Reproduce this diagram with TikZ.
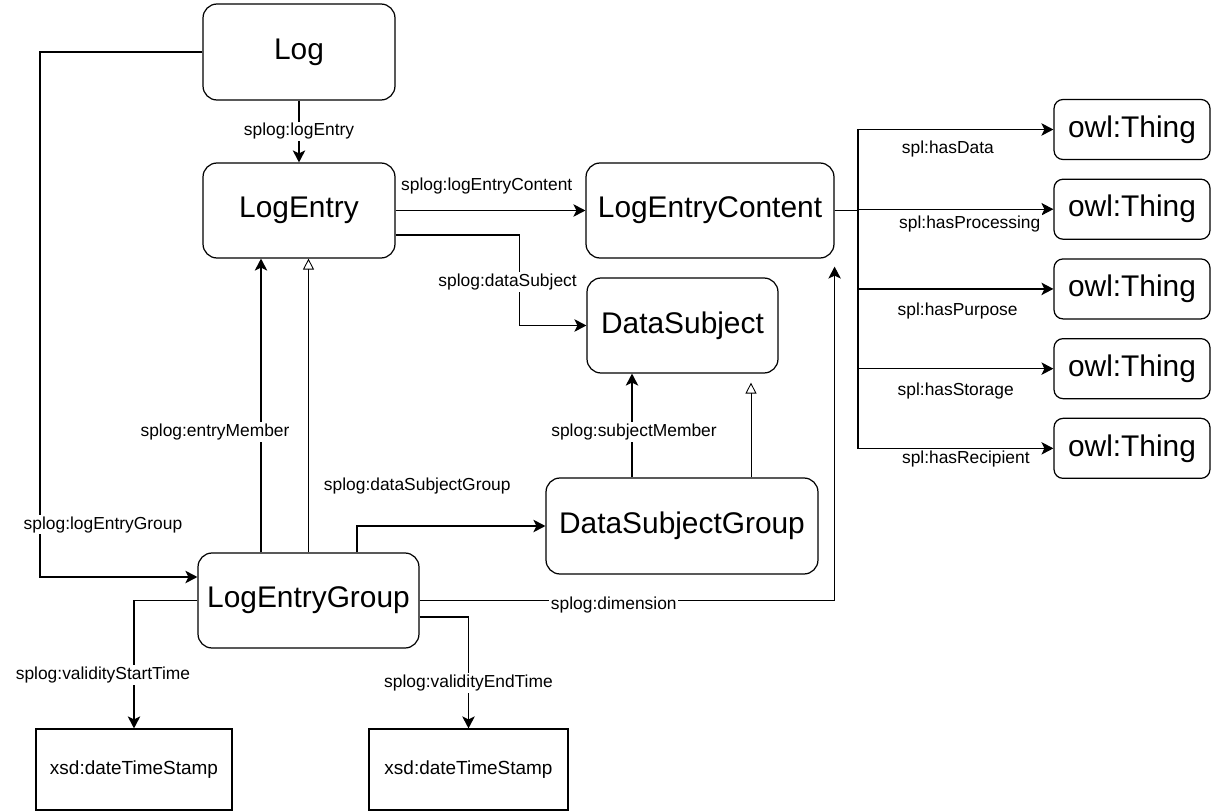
\documentclass[tikz,border=0pt]{standalone}
\usepackage{fontspec}
\setmainfont{Liberation Sans}
\usetikzlibrary{arrows.meta}
\usetikzlibrary{positioning}

\begin{document}
\begin{tikzpicture}[x=0.02cm, y=-0.02cm,
    cls/.style={draw, rounded corners=0.28cm, inner sep=0pt, line width=0.7pt, font=\fontsize{17}{20}\selectfont},
    thing/.style={cls, rounded corners=0.18cm, minimum width=3.12cm, minimum height=1.2cm},
    lit/.style={draw, inner sep=0pt, line width=0.7pt, minimum height=1.62cm, font=\fontsize{10.8}{13}\selectfont},
    lbl/.style={fill=white, inner sep=1pt, font=\fontsize{9.9}{12}\selectfont},
    rel/.style={line width=0.7pt, -{Stealth[length=0.24cm, width=0.25cm, inset=0.06cm]}},
    isa/.style={line width=0.5pt, -{Triangle[open, length=0.22cm, width=0.22cm]}}]
          \useasboundingbox (0,0) rectangle (1214,811);

          \node[cls, minimum width=3.84cm, minimum height=1.92cm] (log) at (299,52) {Log};
          \node[cls, minimum width=3.84cm, minimum height=1.9cm] (entry) at (299,210.5) {LogEntry};
          \node[cls, minimum width=4.96cm, minimum height=1.9cm] (content) at (710,210.5) {LogEntryContent};
          \node[cls, minimum width=3.82cm, minimum height=1.9cm] (subject) at (682.5,325.5) {DataSubject};
          \node[cls, minimum width=5.44cm, minimum height=1.92cm] (sgroup) at (682,526) {DataSubjectGroup};
          \node[cls, minimum width=4.42cm, minimum height=1.9cm] (egroup) at (308.5,600.5) {LogEntryGroup};
          \node[lit, minimum width=3.92cm] (start) at (134,769.5) {xsd:dateTimeStamp};
          \node[lit, minimum width=3.98cm] (end) at (468.5,769.5) {xsd:dateTimeStamp};

          \node[thing] (t1) at (1132,129.5) {owl:Thing};
          \node[thing, below=0.37cm of t1] (t2) {owl:Thing};
          \node[thing, below=0.37cm of t2] (t3) {owl:Thing};
          \node[thing, below=0.37cm of t3] (t4) {owl:Thing};
          \node[thing, below=0.37cm of t4] (t5) {owl:Thing};
          \coordinate (hub) at (858,210.5);

          \draw
          (log) edge[rel] node[lbl]{splog:logEntry} (entry)
          (entry) edge[rel] node[lbl, pos=0.48, above=0.29cm]{splog:logEntryContent} (content)
          (egroup.north) edge[isa] (egroup.north |- entry.south)
          ([xshift=1.38cm]sgroup.north) edge[isa, shorten >=0.18cm] ([xshift=1.38cm]sgroup.north |- subject.south);

          \draw[rel] (log.west) -- (40,52) |- node[lbl, pos=0.45, xshift=1.26cm]{splog:logEntryGroup} ([yshift=0.47cm]egroup.west);
          \draw[rel] ([yshift=-0.49cm]entry.east) -- ++(124,0) |- node[lbl, pos=0.26, xshift=-0.24cm]{splog:dataSubject} (subject.west);
          \draw[rel] ([xshift=-0.95cm]egroup.north) -- node[lbl, pos=0.41, xshift=-0.92cm]{splog:entryMember} ([xshift=-0.95cm]egroup.north |- entry.south);
          \draw[rel] ([xshift=0.97cm]egroup.north) |- node[lbl, pos=0.66, yshift=0.8cm]{splog:dataSubjectGroup} (sgroup.west);
          \draw[rel] ([xshift=-1cm]sgroup.north) -- node[lbl, pos=0.44, xshift=0.04cm]{splog:subjectMember} ([xshift=-1cm]sgroup.north |- subject.south);
          \draw[rel] (egroup.east) -| node[lbl, pos=0.234, yshift=-0.08cm]{splog:dimension} ([yshift=-0.16cm]content.south east);
          \draw[rel] (egroup.west) -| node[lbl, pos=0.79, xshift=-0.62cm]{splog:validityStartTime} (start.north);
          \draw[rel] ([yshift=-0.33cm]egroup.east) -| node[lbl, pos=0.795]{splog:validityEndTime} (end.north);

          \draw[rel] (content.east) -- (hub) |- node[lbl, pos=0.73, yshift=-0.39cm]{spl:hasData} (t1.west);
          \draw[rel] (content.east) -- (hub) |- node[lbl, pos=0.786, yshift=-0.29cm]{spl:hasProcessing} (t2.west);
          \draw[rel] (content.east) -- (hub) |- node[lbl, pos=0.755, yshift=-0.44cm]{spl:hasPurpose} (t3.west);
          \draw[rel] (content.east) -- (hub) |- node[lbl, pos=0.75, yshift=-0.44cm]{spl:hasStorage} (t4.west);
          \draw[rel] (content.east) -- (hub) |- node[lbl, pos=0.776, yshift=-0.22cm]{spl:hasRecipient} (t5.west);
        \end{tikzpicture}
\end{document}
